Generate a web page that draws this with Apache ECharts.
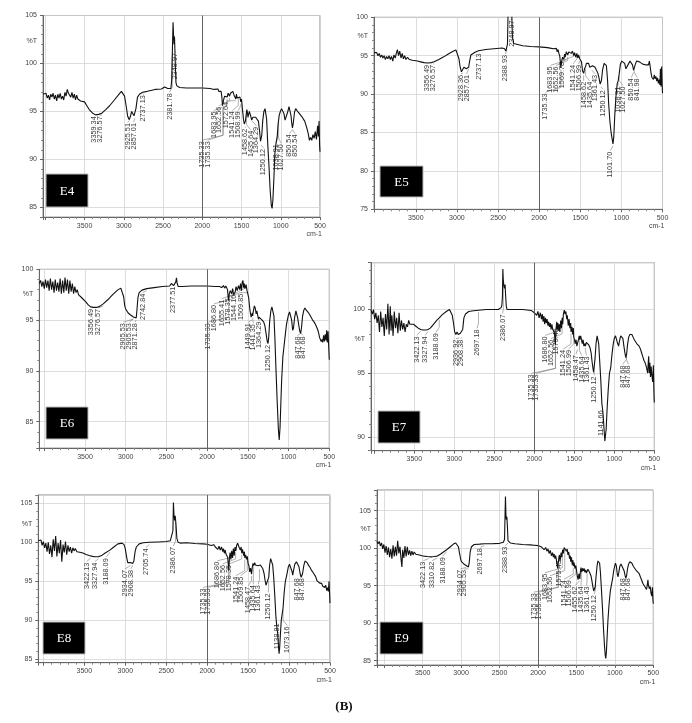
<!DOCTYPE html>
<html><head><meta charset="utf-8">
<script src="https://cdn.jsdelivr.net/npm/echarts/dist/echarts.min.js"></script>
<style>html,body{margin:0;padding:0;background:#fff}#c{width:692px;height:723px}</style>
</head><body><div id="c"></div>
<script>
// ---------- data ----------
const panelNames = ['E4','E5','E6','E7','E8','E9'];
const xMaxes = [4029, 4008, 4061, 4041, 4062, 4094];
const yMins = [84, 75, 82.4, 88.95, 84.56, 84.43];
const yMaxes = [105, 100, 100, 103.6, 106.07, 107.76];
const ySplitCounts = [4, 5, 4, 3, 4, 4];
const pctTLevels = [102.3, 97.6, 97.6, 97.66, 102.4, 102.5];
const xTickLabels = [3500, 3000, 2500, 2000, 1500, 1000, 500];
const yTickLabels = [75, 80, 85, 90, 95, 100, 105];

const specE4 = [[4029,96.8],[4010,96.6],[3990,96.9],[3975,96.4],[3960,96.7],[3945,96.2],[3930,96.8],[3915,96.5],[3900,96.9],[3885,96.3],[3870,96.7],[3855,96.1],[3840,96.8],[3825,96.4],[3810,96.9],[3795,96.3],[3780,96.6],[3765,96.2],[3750,97.0],[3735,96.6],[3720,97.3],[3705,96.9],[3690,97.1],[3675,96.5],[3660,97.0],[3645,96.4],[3630,96.8],[3615,96.2],[3600,96.7],[3585,96.3],[3570,96.5],[3550,96.1],[3530,96.3],[3500,96.0],[3470,95.6],[3440,95.2],[3400,94.85],[3360,94.65],[3320,94.7],[3276,94.85],[3230,95.2],[3180,95.6],[3120,96.2],[3060,96.8],[3030,97.1],[3010,97.0],[2990,96.6],[2970,95.6],[2950,94.5],[2930,94.15],[2915,94.5],[2900,95.0],[2885,94.9],[2870,94.55],[2857,94.5],[2845,95.3],[2825,96.5],[2800,96.8],[2760,97.0],[2700,97.1],[2600,97.3],[2520,97.35],[2480,97.55],[2460,97.35],[2440,97.4],[2420,97.25],[2400,97.4],[2390,98.2],[2380,101.5],[2372,104.3],[2366,103.0],[2360,102.0],[2354,102.8],[2349,101.5],[2342,99.5],[2335,98.0],[2325,97.7],[2310,97.75],[2290,97.5],[2200,97.45],[2100,97.45],[2000,97.45],[1900,97.4],[1850,97.3],[1800,97.35],[1790,97.1],[1780,97.3],[1770,96.9],[1760,97.1],[1750,96.5],[1742,95.6],[1736,95.5],[1728,96.2],[1715,96.6],[1700,96.4],[1690,96.8],[1683,96.5],[1670,96.9],[1652,96.6],[1640,96.9],[1625,97.0],[1610,97.1],[1595,96.7],[1585,96.9],[1572,96.3],[1565,96.8],[1555,96.4],[1541,96.6],[1530,96.2],[1520,96.5],[1509,96.0],[1500,96.3],[1490,95.4],[1475,94.2],[1465,93.7],[1458,93.6],[1450,94.0],[1440,94.7],[1432,95.2],[1425,94.9],[1418,94.4],[1410,94.7],[1400,95.0],[1385,94.6],[1370,94.1],[1355,94.4],[1340,94.5],[1320,94.4],[1300,94.3],[1285,94.0],[1270,93.0],[1258,91.9],[1250,91.7],[1242,92.5],[1230,94.0],[1215,95.0],[1200,95.3],[1190,95.1],[1180,94.2],[1165,91.5],[1150,89.3],[1135,86.8],[1120,85.2],[1110,84.9],[1100,85.8],[1085,88.5],[1075,90.6],[1060,91.7],[1045,92.4],[1035,93.6],[1020,94.6],[1005,95.0],[990,95.3],[975,95.2],[960,94.8],[945,94.1],[935,94.0],[925,94.2],[910,95.0],[895,95.5],[885,95.4],[870,94.6],[860,93.8],[851,93.3],[840,93.8],[825,94.9],[810,95.3],[795,95.1],[775,94.9],[755,94.8],[735,94.5],[715,94.4],[695,94.0],[680,93.6],[665,93.2],[650,92.7],[635,92.0],[620,92.3],[605,92.0],[590,92.6],[575,92.2],[560,92.9],[545,92.1],[530,93.5],[520,92.4],[512,94.0],[505,91.5],[500,90.8]];

const specE5 = [[4008,95.4],[3990,95.2],[3975,95.4],[3960,95.0],[3945,95.3],[3930,94.8],[3915,95.1],[3900,94.7],[3885,95.0],[3870,94.5],[3855,94.9],[3840,94.6],[3825,95.0],[3810,94.5],[3795,94.9],[3780,94.3],[3765,95.1],[3750,94.7],[3735,95.4],[3723,95.8],[3710,95.0],[3695,95.6],[3680,94.7],[3665,95.3],[3650,94.6],[3635,95.0],[3620,94.5],[3600,94.8],[3580,94.5],[3560,94.6],[3540,94.4],[3520,94.45],[3480,94.3],[3440,94.2],[3400,94.1],[3356,94.05],[3310,94.1],[3276,94.2],[3220,94.5],[3160,94.85],[3100,95.25],[3040,95.6],[3012,95.75],[2995,95.5],[2975,94.6],[2960,93.5],[2945,92.9],[2930,92.95],[2915,93.5],[2900,93.6],[2885,93.3],[2870,93.3],[2857,93.5],[2845,94.3],[2830,95.1],[2810,95.3],[2780,95.45],[2737,95.65],[2650,95.8],[2550,95.9],[2450,96.0],[2420,95.9],[2405,95.6],[2395,95.4],[2385,96.5],[2378,100.5],[2370,103],[2355,103],[2340,103],[2333,100.5],[2325,97.5],[2310,96.6],[2290,96.5],[2200,96.3],[2100,96.2],[2000,96.15],[1900,96.05],[1850,95.95],[1820,95.9],[1800,95.7],[1790,95.95],[1780,95.5],[1770,95.8],[1760,95.3],[1750,95.0],[1742,94.2],[1736,93.4],[1728,94.2],[1715,94.8],[1700,94.5],[1690,95.2],[1683,94.8],[1670,95.5],[1652,95.1],[1640,95.5],[1625,95.6],[1610,95.3],[1595,95.6],[1580,95.0],[1569,95.4],[1555,94.8],[1541,95.3],[1530,94.7],[1520,95.1],[1507,94.6],[1497,94.8],[1485,94.2],[1472,93.0],[1458,92.7],[1448,93.3],[1435,93.6],[1425,94.0],[1410,94.1],[1398,94.0],[1385,93.5],[1375,93.6],[1361,93.4],[1350,93.7],[1335,93.6],[1320,93.5],[1300,93.3],[1285,92.7],[1270,92.0],[1258,91.3],[1250,91.2],[1242,91.8],[1228,93.2],[1210,94.0],[1195,94.2],[1182,93.7],[1168,91.8],[1155,88.8],[1140,86.5],[1125,85.0],[1110,84.0],[1102,83.5],[1092,84.5],[1080,87.3],[1065,89.8],[1050,91.4],[1039,91.7],[1027,92.6],[1012,93.9],[995,94.3],[975,94.4],[960,94.0],[945,93.3],[935,93.05],[925,93.3],[910,94.0],[895,94.3],[878,94.4],[865,93.8],[851,93.1],[842,93.3],[830,93.9],[815,94.3],[797,94.35],[780,94.2],[760,94.0],[740,93.9],[720,93.85],[700,93.8],[685,93.7],[670,93.8],[660,94.3],[650,93.6],[640,92.8],[630,92.2],[620,92.4],[610,91.9],[600,92.5],[590,92.0],[580,92.3],[570,91.7],[560,92.1],[550,91.4],[540,91.9],[532,91.2],[525,93.3],[518,91.0],[510,93.6],[505,91.5],[500,90.1]];

const specE6 = [[4061,98.6],[4045,98.9],[4030,98.3],[4015,98.8],[4000,98.1],[3985,99.0],[3970,98.2],[3955,98.9],[3940,97.9],[3925,99.1],[3910,98.0],[3895,98.8],[3880,97.7],[3865,99.0],[3850,97.9],[3835,98.7],[3820,97.8],[3805,99.1],[3790,97.6],[3775,98.9],[3760,97.7],[3745,99.2],[3730,97.9],[3715,99.0],[3700,97.6],[3685,98.9],[3670,97.8],[3655,98.6],[3640,97.6],[3625,98.3],[3610,97.7],[3595,98.0],[3580,97.5],[3560,97.6],[3540,97.2],[3520,97.1],[3490,96.8],[3460,96.5],[3430,96.3],[3400,96.25],[3356,96.25],[3320,96.35],[3276,96.6],[3220,97.0],[3160,97.5],[3100,97.95],[3060,98.15],[3040,98.0],[3025,97.3],[3012,96.4],[3000,96.1],[2985,95.9],[2970,95.7],[2955,95.8],[2940,95.5],[2925,95.6],[2905,95.3],[2890,95.4],[2871,95.2],[2862,96.0],[2850,97.2],[2835,97.7],[2800,97.95],[2742,98.1],[2650,98.2],[2550,98.3],[2460,98.35],[2440,98.6],[2425,98.75],[2410,98.4],[2395,98.5],[2385,98.75],[2377,99.15],[2368,98.6],[2355,98.3],[2300,98.3],[2200,98.35],[2100,98.35],[2000,98.35],[1900,98.3],[1850,98.3],[1820,98.2],[1800,98.4],[1785,98.15],[1770,98.35],[1760,98.2],[1750,98.0],[1742,97.3],[1736,96.9],[1728,97.6],[1716,97.9],[1700,97.6],[1687,98.1],[1675,97.5],[1655,97.8],[1645,98.3],[1630,97.9],[1615,98.4],[1600,98.0],[1590,98.6],[1578,97.9],[1570,98.7],[1560,98.9],[1552,98.2],[1544,98.6],[1535,98.1],[1522,98.5],[1510,97.9],[1500,97.8],[1490,97.2],[1475,96.0],[1460,95.3],[1450,95.2],[1445,95.7],[1441,95.4],[1430,96.0],[1420,96.4],[1410,96.2],[1398,95.6],[1390,95.9],[1380,95.5],[1370,95.1],[1364,95.3],[1352,95.2],[1340,95.3],[1325,95.0],[1305,94.8],[1290,94.4],[1275,93.6],[1262,92.9],[1252,92.7],[1244,93.3],[1232,94.9],[1218,95.9],[1205,96.3],[1192,96.2],[1180,95.4],[1168,93.2],[1155,90.2],[1140,87.0],[1125,84.2],[1115,83.2],[1105,84.4],[1095,86.8],[1085,89.1],[1070,91.4],[1055,92.5],[1040,93.6],[1025,94.6],[1005,95.4],[988,95.8],[975,95.7],[962,95.0],[950,94.0],[940,94.2],[925,95.3],[910,95.9],[900,95.9],[888,95.2],[875,94.5],[862,93.9],[852,93.7],[842,94.2],[828,95.4],[812,96.0],[799,96.2],[785,96.0],[765,95.8],[745,95.6],[725,95.3],[705,95.0],[685,94.8],[665,94.5],[650,94.2],[640,94.0],[630,93.7],[620,93.3],[612,93.4],[600,92.9],[590,93.1],[580,92.8],[570,93.5],[560,92.9],[550,93.6],[540,93.0],[532,94.0],[525,92.8],[515,93.9],[508,92.5],[500,91.1]];

const specE7 = [[4041,99.9],[4025,99.6],[4010,99.95],[3995,99.2],[3980,99.7],[3965,98.9],[3950,99.5],[3935,98.2],[3920,99.8],[3905,98.6],[3890,99.3],[3875,97.9],[3860,99.6],[3845,98.4],[3830,100.4],[3815,98.0],[3800,100.2],[3790,98.3],[3780,99.5],[3765,97.9],[3750,99.8],[3735,98.5],[3720,99.3],[3705,98.1],[3690,99.7],[3675,98.3],[3660,99.1],[3645,98.4],[3630,98.9],[3615,98.2],[3600,98.8],[3585,98.6],[3570,99.1],[3555,98.8],[3540,98.9],[3510,98.8],[3480,98.65],[3450,98.5],[3420,98.4],[3390,98.35],[3355,98.35],[3327,98.4],[3300,98.5],[3260,98.8],[3220,99.1],[3188,99.3],[3150,99.55],[3100,99.8],[3060,99.95],[3040,99.85],[3025,99.5],[3010,98.9],[2995,98.2],[2980,98.0],[2965,98.2],[2950,98.0],[2937,97.9],[2925,98.1],[2915,98.0],[2908,97.95],[2895,98.4],[2880,99.3],[2860,99.6],[2820,99.8],[2760,99.85],[2697,99.9],[2600,99.95],[2500,99.95],[2450,99.95],[2430,99.85],[2415,100.1],[2405,100.3],[2398,101.0],[2393,103.1],[2387,102.2],[2380,101.8],[2372,101.6],[2365,101.9],[2358,101.0],[2350,100.2],[2340,99.95],[2320,99.95],[2250,99.95],[2150,99.95],[2060,99.9],[2030,99.85],[2000,99.7],[1985,99.85],[1970,99.5],[1955,99.8],[1940,99.3],[1925,99.7],[1910,99.2],[1900,99.6],[1890,99.0],[1880,99.45],[1870,98.8],[1860,99.3],[1850,98.9],[1840,99.2],[1830,98.7],[1820,99.0],[1810,98.6],[1800,98.9],[1790,98.4],[1780,98.8],[1770,98.4],[1760,98.5],[1750,98.2],[1742,97.6],[1736,97.2],[1730,98.3],[1720,99.0],[1712,98.4],[1705,98.9],[1695,98.3],[1687,98.8],[1680,98.2],[1670,99.1],[1660,98.5],[1652,99.3],[1645,98.8],[1636,99.6],[1625,99.9],[1615,99.6],[1605,99.8],[1595,99.2],[1588,99.5],[1575,98.7],[1565,99.2],[1555,98.5],[1545,98.9],[1541,98.2],[1530,98.6],[1520,98.0],[1512,98.5],[1507,97.8],[1498,97.6],[1488,97.3],[1478,97.6],[1468,97.1],[1458,97.0],[1448,97.6],[1438,97.9],[1430,97.6],[1420,97.9],[1410,97.8],[1400,97.3],[1390,97.6],[1380,97.1],[1370,97.3],[1361,97.1],[1350,97.4],[1335,97.5],[1320,97.2],[1305,97.0],[1290,96.6],[1278,95.9],[1265,95.3],[1258,95.05],[1250,95.2],[1240,96.2],[1228,97.3],[1215,97.9],[1205,97.85],[1195,97.3],[1185,96.2],[1170,94.6],[1155,92.6],[1145,92.1],[1138,91.6],[1128,90.6],[1118,89.7],[1110,89.6],[1102,90.6],[1090,92.2],[1075,93.8],[1060,95.0],[1045,95.4],[1030,96.4],[1015,97.2],[1000,97.7],[985,97.9],[970,97.8],[958,97.3],[946,97.1],[935,97.5],[920,97.9],[905,98.0],[893,97.7],[880,97.1],[868,96.6],[856,96.2],[845,96.5],[835,97.2],[820,97.8],[805,98.0],[792,98.15],[780,98.0],[765,97.8],[750,97.6],[735,97.5],[720,97.3],[705,97.3],[690,97.1],[675,96.9],[660,96.6],[645,96.3],[630,96.0],[615,95.8],[600,95.5],[590,95.2],[583,95.0],[575,95.9],[570,96.3],[563,95.0],[555,95.8],[548,94.7],[540,95.5],[530,94.8],[520,94.3],[512,95.6],[505,93.6],[500,92.7]];

const specE8 = [[4062,100.2],[4045,100.0],[4030,100.3],[4015,99.6],[4000,100.1],[3985,99.3],[3970,99.9],[3955,98.8],[3940,100.0],[3925,98.5],[3910,99.6],[3895,98.1],[3880,100.4],[3865,98.9],[3850,100.8],[3835,98.2],[3820,99.9],[3805,98.6],[3790,100.3],[3775,97.5],[3760,99.7],[3745,98.7],[3730,100.1],[3715,98.4],[3700,99.6],[3685,98.8],[3670,99.4],[3655,98.6],[3640,99.3],[3625,98.9],[3610,99.2],[3590,98.8],[3570,99.0],[3540,98.7],[3510,98.6],[3480,98.45],[3440,98.3],[3400,98.2],[3370,98.15],[3328,98.15],[3290,98.3],[3250,98.6],[3188,99.0],[3140,99.4],[3090,99.8],[3040,99.9],[3015,99.7],[3000,99.2],[2985,98.2],[2970,97.4],[2955,97.3],[2940,97.4],[2934,97.3],[2920,97.5],[2908,97.3],[2895,97.6],[2880,98.8],[2865,99.4],[2830,99.8],[2780,99.95],[2705,100.0],[2600,100.05],[2500,100.1],[2450,100.2],[2430,100.3],[2418,101.5],[2412,105.1],[2405,103.5],[2398,102.8],[2390,103.4],[2380,102.2],[2370,100.5],[2355,100.0],[2330,99.9],[2250,99.95],[2150,99.85],[2050,99.8],[2000,99.75],[1950,99.6],[1920,99.7],[1900,99.4],[1885,99.6],[1870,99.1],[1855,99.5],[1840,99.0],[1825,99.4],[1810,98.8],[1800,99.2],[1790,98.6],[1780,99.0],[1770,98.5],[1760,98.7],[1750,98.1],[1742,97.2],[1736,96.4],[1728,98.0],[1720,98.7],[1710,97.8],[1700,98.9],[1690,98.0],[1680,99.2],[1670,98.3],[1660,99.4],[1650,98.9],[1640,99.6],[1628,99.9],[1615,99.5],[1605,99.7],[1595,99.0],[1585,99.4],[1578,98.6],[1568,99.1],[1555,98.3],[1545,98.8],[1541,98.0],[1530,98.4],[1520,97.8],[1510,98.2],[1500,97.3],[1490,97.0],[1480,96.2],[1470,96.7],[1458,95.9],[1448,96.9],[1440,97.3],[1430,97.0],[1420,97.4],[1410,97.1],[1400,96.9],[1390,97.3],[1380,97.0],[1368,97.2],[1361,96.8],[1350,97.1],[1335,97.0],[1320,96.6],[1305,96.0],[1294,95.2],[1282,94.5],[1270,94.3],[1258,94.6],[1248,95.5],[1238,97.0],[1225,97.9],[1212,97.8],[1200,97.1],[1188,95.6],[1175,93.3],[1160,90.4],[1148,89.0],[1139,88.3],[1130,86.8],[1122,85.7],[1115,86.4],[1105,88.3],[1095,90.0],[1080,91.1],[1073,91.6],[1060,93.5],[1045,95.0],[1030,95.7],[1010,96.8],[995,97.2],[985,97.3],[972,97.0],[962,96.2],[955,95.8],[945,96.4],[930,97.2],[910,97.5],[895,97.5],[880,96.9],[865,96.0],[852,95.5],[846,95.4],[835,96.0],[820,97.0],[805,97.6],[793,97.7],[780,97.4],[765,97.1],[745,96.8],[725,96.4],[705,96.1],[690,95.9],[675,95.6],[660,95.1],[645,94.9],[630,94.8],[615,94.6],[600,94.7],[590,94.4],[578,94.6],[565,94.2],[552,94.5],[540,93.8],[530,94.2],[520,93.7],[512,95.0],[505,93.4],[500,92.2]];

const specE9 = [[4094,100.9],[4080,100.6],[4065,100.9],[4050,100.3],[4035,100.7],[4020,99.9],[4005,100.5],[3990,99.4],[3975,100.3],[3960,99.1],[3945,100.1],[3930,98.8],[3915,99.9],[3900,98.6],[3885,100.4],[3870,98.9],[3855,100.2],[3840,99.0],[3825,101.0],[3810,99.3],[3795,100.2],[3780,98.4],[3770,97.5],[3760,99.8],[3745,98.7],[3730,100.3],[3715,98.9],[3700,100.2],[3685,99.1],[3670,99.7],[3655,99.0],[3640,99.6],[3625,99.1],[3610,99.5],[3590,99.2],[3570,99.3],[3540,99.1],[3510,99.0],[3480,98.95],[3440,98.9],[3392,98.85],[3350,98.9],[3311,98.95],[3270,99.2],[3230,99.5],[3188,99.8],[3140,100.2],[3100,100.55],[3070,100.7],[3050,100.6],[3035,100.2],[3020,99.3],[3005,98.5],[2995,98.2],[2980,98.1],[2965,97.9],[2950,98.0],[2935,97.7],[2920,97.9],[2905,97.5],[2895,98.0],[2882,99.5],[2865,100.2],[2830,100.5],[2760,100.55],[2697,100.6],[2600,100.6],[2500,100.65],[2450,100.8],[2435,101.2],[2428,104.6],[2423,106.9],[2417,104.5],[2412,103.8],[2405,104.2],[2398,103.0],[2390,101.0],[2380,100.9],[2360,100.7],[2300,100.6],[2200,100.5],[2100,100.45],[2050,100.4],[2000,100.35],[1960,100.2],[1940,100.3],[1920,99.8],[1900,100.1],[1885,99.6],[1870,99.9],[1855,99.3],[1840,99.7],[1825,99.0],[1810,99.4],[1800,98.8],[1790,99.2],[1780,98.6],[1770,99.0],[1760,98.4],[1752,97.8],[1744,97.3],[1738,97.2],[1730,98.6],[1722,99.1],[1712,98.3],[1700,99.4],[1690,98.8],[1680,99.8],[1670,99.3],[1660,100.1],[1650,100.3],[1640,100.0],[1630,99.6],[1620,99.9],[1610,99.1],[1600,99.5],[1590,98.6],[1580,99.0],[1575,98.2],[1565,98.8],[1555,97.8],[1545,98.4],[1541,97.6],[1530,98.1],[1520,97.3],[1507,97.7],[1497,96.9],[1487,96.2],[1478,95.8],[1468,96.6],[1456,95.9],[1448,96.9],[1440,97.4],[1430,96.8],[1420,97.3],[1410,97.0],[1400,97.3],[1390,96.8],[1380,97.1],[1370,96.7],[1361,96.9],[1350,97.2],[1338,97.0],[1325,96.7],[1310,96.3],[1298,95.6],[1285,94.8],[1275,94.3],[1265,94.2],[1255,94.9],[1245,96.2],[1232,97.6],[1220,98.3],[1208,98.4],[1198,98.0],[1188,96.8],[1175,94.6],[1160,91.8],[1148,89.3],[1135,87.0],[1125,85.7],[1118,85.3],[1110,86.2],[1100,88.3],[1090,90.4],[1075,92.6],[1060,94.2],[1045,95.1],[1030,95.9],[1015,97.0],[1000,97.7],[992,98.0],[980,97.6],[968,96.5],[958,96.2],[948,96.8],[935,97.6],[920,97.9],[905,98.0],[895,97.8],[880,97.0],[866,96.3],[856,96.0],[846,96.4],[835,97.3],[820,97.9],[805,98.2],[791,98.3],[778,98.0],[760,97.6],[740,97.3],[720,97.0],[700,96.8],[683,96.6],[665,96.1],[650,95.7],[635,95.3],[620,95.1],[605,94.8],[596,94.9],[588,94.5],[578,95.1],[570,95.8],[562,95.0],[552,94.6],[540,94.9],[530,94.0],[520,93.6],[512,94.8],[505,93.2],[500,92.6]];

// peak labels: [text, label wavenumber, %T at top of label]
const labE4 = [["3359.34",3384,94.5],["3276.57",3308,94.5],["2925.51",2951,93.8],["2857.01",2875,93.8],["2737.13",2756,96.7],["2381.78",2417,96.9],["2348.97",2345,101.1],["1735.33",2005,91.9],["1735.33",1933,91.9],["1683.95",1852,95.0],["1652.56",1781,95.5],["1572.64",1692,96.0],["1541.24",1615,95.0],["1508.99",1540,95.0],["1458.62",1450,93.2],["1435.64",1385,93.0],["1364.29",1310,93.4],["1250.12",1220,91.1],["1038.91",1060,91.6],["1027.50",995,91.6],["850.54",890,92.6],["850.54",818,92.6]];
const labE5 = [["3356.49",3366,93.8],["3276.57",3288,93.8],["2928.36",2951,92.5],["2857.01",2882,92.5],["2737.13",2736,95.3],["2388.93",2410,95.1],["2348.97",2329,99.6],["1735.33",1923,90.1],["1683.95",1862,93.6],["1652.56",1793,93.6],["1569.78",1719,94.2],["1541.24",1589,93.8],["1506.99",1520,93.8],["1458.62",1459,91.6],["1435.64",1386,91.6],["1361.43",1317,92.5],["1250.12",1223,90.5],["1101.70",1134,82.5],["1038.91",1041,91.0],["1027.50",979,91.0],["850.54",878,92.05],["841.98",808,92.05]];
const labE6 = [["3356.49",3430,96.1],["3276.57",3336,96.1],["2905.53",3029,94.7],["2905.53",2956,94.7],["2871.28",2886,94.7],["2742.84",2792,97.6],["2377.51",2415,98.3],["1735.33",1986,94.7],["1686.80",1916,96.5],["1655.41",1822,97.0],["1578.35",1748,97.15],["1544.10",1666,97.5],["1509.85",1588,97.6],["1449.91",1494,94.7],["1441.35",1433,94.6],["1364.29",1359,94.85],["1250.12",1249,92.55],["847.68",888,93.4],["847.68",827,93.4]];
const labE7 = [["3422.13",3467,97.86],["3327.94",3363,97.86],["3188.09",3229,98.1],["2936.92",2979,97.6],["2908.38",2917,97.6],["2697.18",2717,98.4],["2386.07",2396,99.56],["1735.33",2037,94.9],["1735.33",1979,94.9],["1686.80",1862,97.86],["1652.56",1792,97.6],["1575.45",1729,98.5],["1541.24",1637,96.8],["1506.99",1571,96.8],["1458.47",1479,96.4],["1435.64",1408,96.3],["1361.43",1346,96.3],["1250.12",1250,94.74],["1141.66",1167,92.1],["847.68",896,95.6],["847.68",825,95.6]];
const labE8 = [["3422.13",3472,97.4],["3327.94",3370,97.4],["3188.09",3235,97.95],["2934.07",3003,96.45],["2908.38",2934,96.45],["2705.74",2747,99.2],["2386.07",2413,99.4],["1735.33",2047,94.1],["1735.33",1986,94.1],["1686.80",1876,97.5],["1652.56",1811,97.1],["1578.35",1730,97.1],["1541.24",1648,95.6],["1509.85",1591,95.6],["1458.47",1498,94.3],["1435.64",1437,94.5],["1361.43",1375,94.5],["1250.12",1253,93.45],["1138.81",1143,89.6],["1073.16",1021,89.2],["847.68",907,95.4],["847.68",846,95.4]];
const labE9 = [["3422.13",3491,98.2],["3310.82",3379,98.2],["3188.09",3240,98.8],["2934.07",3010,97.1],["2905.53",2958,97.1],["2697.18",2750,100.0],["2388.93",2425,100.2],["1735.33",2057,94.0],["1735.33",1992,94.0],["1683.95",1909,96.6],["1652.56",1844,96.2],["1575.45",1731,98.4],["1541.24",1658,95.75],["1506.99",1593,95.75],["1455.62",1515,94.9],["1435.64",1441,94.9],["1361.43",1367,94.9],["1250.12",1268,93.75],["847.68",899,96.0],["847.68",834,96.0]];

const spectra = [specE4, specE5, specE6, specE7, specE8, specE9];
const labelSets = [labE4, labE5, labE6, labE7, labE8, labE9];

// ---------- layout (pixels) ----------
const layout = [
  {left:43, top:15.5, width:277, height:201.6},
  {left:374, top:17.3, width:288.5, height:192},
  {left:39.3, top:269.3, width:290, height:178.8},
  {left:371, top:262.7, width:283.3, height:188},
  {left:38.3, top:495, width:291.7, height:167.7},
  {left:377, top:490, width:276.3, height:175}
];
const tagBoxes = [[46,174,42,33],[380,166,43,31],[46,407,42,32],[378,411,42,32],[43,622,42,32],[380,622,43,32]];

function interpT(spec, wn) {
  for (let i = 0; i < spec.length - 1; i++) {
    const a = spec[i], b = spec[i+1];
    if (a[0] >= wn && b[0] <= wn) {
      const t = (a[0] - wn) / (a[0] - b[0] || 1);
      return a[1] + t * (b[1] - a[1]);
    }
  }
  return spec[spec.length-1][1];
}

const chart = echarts.init(document.getElementById('c'), null, {renderer:'canvas'});
const FONT = 'Liberation Sans, Arial, sans-serif';
const grids = [], xAxes = [], yAxes = [], series = [];

for (let i = 0; i < 6; i++) {
  grids.push(Object.assign({show:true, borderColor:'#8a8a8a', borderWidth:1, backgroundColor:'#fff', containLabel:false, outerBoundsMode:'none'}, layout[i]));
  xAxes.push({
    type:'value', gridIndex:i, inverse:true, min:500, max:xMaxes[i], interval:500,
    axisLine:{show:true, onZero:false, lineStyle:{color:'#666', width:1}},
    axisTick:{show:true, length:3, lineStyle:{color:'#666'}},
    minorTick:{show:true, splitNumber:5, length:2, lineStyle:{color:'#888'}},
    splitLine:{show:true, lineStyle:{color:'#d4d4d4', width:0.8}},
    axisLabel:{fontSize:7, color:'#444', fontFamily:FONT, margin:5, showMaxLabel:true,
      formatter: v => xTickLabels.includes(v) ? String(v) : ''}
  });
  yAxes.push({
    type:'value', gridIndex:i, min:yMins[i], max:yMaxes[i], splitNumber:ySplitCounts[i],
    axisLine:{show:true, onZero:false, lineStyle:{color:'#666', width:1}},
    axisTick:{show:true, length:3, lineStyle:{color:'#666'}},
    minorTick:{show:true, splitNumber:5, length:2, lineStyle:{color:'#888'}},
    splitLine:{show:true, lineStyle:{color:'#d4d4d4', width:0.8}},
    axisLabel:{fontSize:7, color:'#444', fontFamily:FONT, margin:6,
      formatter: v => {
        const r = Math.round(v);
        return (Math.abs(v - r) < 1e-6 && yTickLabels.includes(r)) ? String(r) : '';
      }}
  });
  series.push({
    type:'line', xAxisIndex:i, yAxisIndex:i, data:spectra[i], showSymbol:false, symbol:'none',
    clip:true, animation:false, silent:true,
    lineStyle:{color:'#111', width:1.1},
    markLine:{silent:true, symbol:'none', label:{show:false}, animation:false,
      lineStyle:{color:'#555', width:0.9, type:'solid'}, data:[{xAxis:2000}]}
  });
  const spec = spectra[i];
  const labs = labelSets[i];
  series.push({
    type:'custom', xAxisIndex:i, yAxisIndex:i, animation:false, silent:true, clip:false,
    data: labs.map(l => [l[1], l[2], parseFloat(l[0]), interpT(spec, parseFloat(l[0]))]),
    encode:{x:0, y:1},
    renderItem: (params, api) => {
      const lab = labs[params.dataIndex][0];
      const L = api.coord([api.value(0), api.value(1)]);
      const P = api.coord([api.value(2), api.value(3)]);
      const topY = params.coordSys.y;
      const p0y = Math.max(P[1], topY) + 2;
      const children = [];
      if (p0y < L[1] - 1) {
        const midY = Math.max(p0y, L[1] - 6);
        children.push({type:'polyline', shape:{points:[[P[0], p0y],[P[0], midY],[L[0], L[1]-1]]},
          style:{stroke:'#7a7a7a', lineWidth:0.6, fill:null}});
      }
      children.push({type:'text', x:L[0], y:L[1], rotation:Math.PI/2,
        style:{text:lab, fontSize:7.3, fontFamily:FONT, fill:'#3a3a3a', align:'right', verticalAlign:'middle'}});
      return {type:'group', children};
    }
  });
}

chart.setOption({
  backgroundColor:'#fff', animation:false,
  grid:grids, xAxis:xAxes, yAxis:yAxes, series:series
});

// decorations: %T, cm-1, sample tags, (B)
const graphics = [];
for (let i = 0; i < 6; i++) {
  const pT = chart.convertToPixel({gridIndex:i}, [xMaxes[i], pctTLevels[i]]);
  graphics.push({type:'text', x:pT[0]-6, y:pT[1], silent:true,
    style:{text:'%T', fontSize:7, fontFamily:FONT, fill:'#444', align:'right', verticalAlign:'middle'}});
  const pc = chart.convertToPixel({gridIndex:i}, [500, yMins[i]]);
  graphics.push({type:'text', x:pc[0]+2, y:pc[1]+17, silent:true,
    style:{text:'cm-1', fontSize:7, fontFamily:FONT, fill:'#444', align:'right', verticalAlign:'middle'}});
  const b = tagBoxes[i];
  graphics.push({type:'rect', shape:{x:b[0], y:b[1], width:b[2], height:b[3]}, silent:true,
    style:{fill:'#000', stroke:'#bbb', lineWidth:1}});
  graphics.push({type:'text', x:b[0]+b[2]/2, y:b[1]+b[3]/2+1, silent:true,
    style:{text:panelNames[i], fontSize:13, fontFamily:'Liberation Serif, serif', fill:'#fff', align:'center', verticalAlign:'middle'}});
}
graphics.push({type:'text', x:344, y:707, silent:true,
  style:{text:'(B)', fontSize:13, fontWeight:'bold', fontFamily:'Liberation Serif, serif', fill:'#111', align:'center', verticalAlign:'middle'}});
chart.setOption({graphic:graphics});
</script></body></html>
